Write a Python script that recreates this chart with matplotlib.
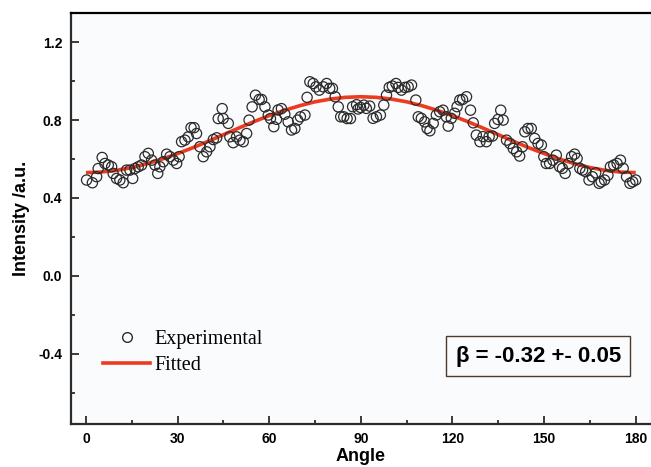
import matplotlib
matplotlib.use("Agg")
import matplotlib.pyplot as plt
from matplotlib.lines import Line2D
from matplotlib.ticker import MultipleLocator, FormatStrFormatter

# ── Data ─────────────────────────────────────────────────────
angle = [0.2, 2.1, 3.5, 4.0, 5.3, 6.2, 7.3, 8.4, 8.9, 10.0,
         11.1, 12.2, 13.3, 14.4, 15.3, 16.0, 17.1, 18.2, 19.3, 20.4,
         21.5, 22.6, 23.5, 24.2, 25.3, 26.4, 27.5, 28.6, 29.7, 30.5,
         31.3, 32.4, 33.5, 34.4, 35.4, 36.2, 37.3, 38.4, 39.5, 40.6,
         41.7, 42.8, 43.3, 44.6, 44.9, 46.6, 47.1, 48.2, 49.3, 50.4,
         51.5, 52.6, 53.4, 54.4, 55.5, 56.7, 57.5, 58.6, 59.7, 60.4,
         61.5, 62.4, 62.9, 64.0, 65.1, 66.2, 67.3, 68.4, 69.3, 70.2,
         71.7, 72.4, 73.3, 74.4, 75.3, 76.4, 77.7, 78.8, 79.8, 80.7,
         81.6, 82.6, 83.4, 84.4, 85.5, 86.6, 87.3, 88.6, 89.1,
         89.9, 91.0, 91.8, 92.9, 94.0, 95.1, 96.4, 97.5, 98.4, 99.3,
         100.3, 101.5, 102.2, 103.3, 104.4, 105.5, 106.6, 108.0, 108.8, 109.8,
         110.9, 111.7, 112.6, 113.7, 114.7, 115.8, 116.9, 118.0, 118.6, 119.6,
         120.7, 121.5, 122.4, 123.3, 124.6, 125.9, 126.8, 127.8, 129.0, 130.0,
         131.1, 132.0, 133.1, 133.8, 134.9, 135.8, 136.6, 137.7, 138.8, 139.9,
         141.0, 142.0, 142.9, 143.7, 144.7, 145.8, 146.9, 148.0, 149.1, 149.9,
         150.7, 151.8, 152.9, 154.0, 155.1, 156.0, 156.9, 158.0, 159.0, 160.0,
         160.8, 161.7, 162.6, 163.6, 164.7, 165.8, 166.9, 168.0, 168.7, 169.8,
         170.9, 171.7, 172.8, 173.9, 175.0, 175.9, 177.0, 178.1, 179.0, 180.0]

intensity = [0.492, 0.478, 0.509, 0.551, 0.608, 0.577, 0.569, 0.560, 0.526, 0.500,
             0.492, 0.478, 0.543, 0.543, 0.500, 0.551, 0.560, 0.569, 0.612, 0.629,
             0.594, 0.569, 0.526, 0.560, 0.586, 0.625, 0.612, 0.594, 0.577, 0.612,
             0.689, 0.697, 0.714, 0.761, 0.761, 0.731, 0.663, 0.612, 0.637, 0.663,
             0.700, 0.709, 0.808, 0.859, 0.808, 0.783, 0.714, 0.684, 0.714, 0.697,
             0.689, 0.731, 0.800, 0.868, 0.928, 0.906, 0.906, 0.868, 0.826, 0.808,
             0.766, 0.804, 0.852, 0.859, 0.830, 0.791, 0.749, 0.757, 0.800, 0.817,
             0.826, 0.917, 0.997, 0.988, 0.971, 0.954, 0.971, 0.988, 0.963, 0.963,
             0.920, 0.868, 0.817, 0.817, 0.808, 0.808, 0.869, 0.879, 0.857,
             0.865, 0.877, 0.860, 0.872, 0.809, 0.817, 0.826, 0.877, 0.928, 0.968,
             0.975, 0.988, 0.968, 0.954, 0.968, 0.971, 0.980, 0.903, 0.817, 0.809,
             0.791, 0.757, 0.745, 0.783, 0.826, 0.843, 0.851, 0.817, 0.769, 0.809,
             0.835, 0.869, 0.903, 0.906, 0.920, 0.851, 0.786, 0.723, 0.689, 0.715,
             0.689, 0.715, 0.718, 0.783, 0.803, 0.851, 0.800, 0.697, 0.680, 0.654,
             0.637, 0.615, 0.663, 0.740, 0.757, 0.757, 0.706, 0.680, 0.672, 0.612,
             0.577, 0.577, 0.594, 0.620, 0.560, 0.552, 0.526, 0.577, 0.612, 0.625,
             0.603, 0.552, 0.543, 0.535, 0.492, 0.509, 0.529, 0.475, 0.483, 0.492,
             0.517, 0.560, 0.569, 0.577, 0.594, 0.552, 0.509, 0.475, 0.483, 0.492]

fit_angle = [0, 5, 10, 15, 20, 25, 30, 35, 40, 45, 50, 55, 60, 65, 70, 75, 80, 85, 90,
             95, 100, 105, 110, 115, 120, 125, 130, 135, 140, 145, 150, 155, 160,
             165, 170, 175, 180]
fit_intensity = [0.530, 0.533, 0.542, 0.556, 0.576, 0.600, 0.628, 0.658, 0.691, 0.725,
                 0.759, 0.792, 0.823, 0.850, 0.874, 0.894, 0.908, 0.917, 0.920,
                 0.917, 0.908, 0.894, 0.874, 0.850, 0.823, 0.792, 0.759, 0.725, 0.691,
                 0.658, 0.628, 0.600, 0.576, 0.556, 0.542, 0.533, 0.530]

# ── Style ────────────────────────────────────────────────────
RED   = "#ee3a1e"
DARK  = "#2b2b2b"
PANEL = "#fafbfd"

fig = plt.figure(figsize=(6.51, 4.67), dpi=100, facecolor="white")
ax = fig.add_axes([0.1086, 0.092, 0.8914, 0.880], facecolor=PANEL)

ax.plot(fit_angle, fit_intensity, color=RED, lw=2.6, zorder=2, solid_capstyle="butt")
ax.scatter(angle, intensity, s=54, facecolors="none", edgecolors=DARK,
           linewidths=0.9, zorder=3)

ax.set_xlim(-5, 185)
ax.set_ylim(-0.762, 1.35)
ax.xaxis.set_major_locator(MultipleLocator(30))
ax.xaxis.set_minor_locator(MultipleLocator(15))
ax.yaxis.set_major_locator(MultipleLocator(0.4))
ax.yaxis.set_minor_locator(MultipleLocator(0.2))
ax.yaxis.set_major_formatter(FormatStrFormatter("%.1f"))

ax.tick_params(which="both", direction="in", top=False, right=False,
               width=1.3, color=DARK)
ax.tick_params(which="major", length=5.5, labelsize=10, pad=6)
ax.tick_params(which="minor", length=2.8)
for lbl in ax.get_xticklabels() + ax.get_yticklabels():
    lbl.set_fontfamily("Liberation Sans")
    lbl.set_fontweight("bold")

for side in ("left", "bottom"):
    ax.spines[side].set_linewidth(1.6)
    ax.spines[side].set_color(DARK)
ax.spines["top"].set_linewidth(1.6)
ax.spines["top"].set_color("black")
ax.spines["right"].set_color("#f3d4cc")
ax.spines["right"].set_linewidth(1.0)

ax.set_xlabel("Angle", fontsize=13, fontweight="bold",
              family="Liberation Sans", labelpad=1)
ax.set_ylabel("Intensity /a.u.", fontsize=13, fontweight="bold",
              family="Liberation Sans", labelpad=6)

handles = [
    Line2D([], [], ls="none", marker="o", markersize=7, markerfacecolor="none",
           markeredgecolor=DARK, markeredgewidth=1.0),
    Line2D([], [], color=RED, lw=2.6),
]
ax.legend(handles, ["Experimental", "Fitted"], loc="upper left",
          bbox_to_anchor=(0.0556, 0.228), frameon=False, borderpad=0,
          borderaxespad=0, handlelength=2.35, handletextpad=0.2,
          labelspacing=0.3, prop={"family": "Liberation Serif", "size": 14.5})

ax.text(0.806, 0.165, "β = -0.32 +- 0.05", transform=ax.transAxes,
        ha="center", va="center", fontsize=16, fontweight="bold",
        family="Liberation Sans",
        bbox=dict(boxstyle="square,pad=0.42", facecolor="none",
                  edgecolor="#4a3a30", linewidth=1.0))

fig.savefig("out.png", dpi=100, facecolor="white")
